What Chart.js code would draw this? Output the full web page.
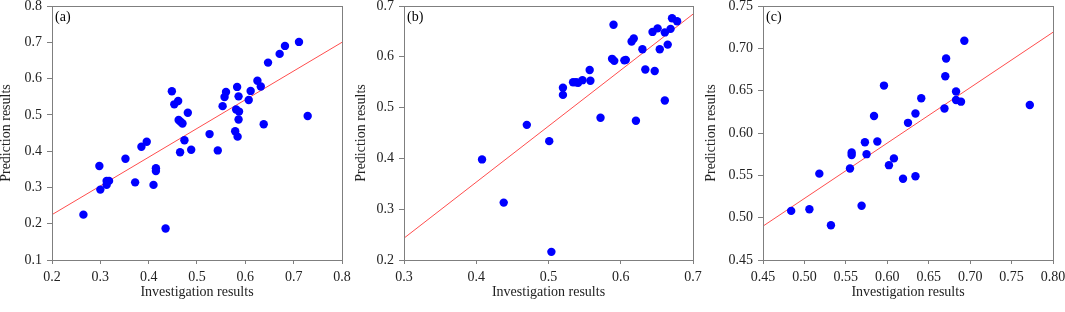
<!DOCTYPE html>
<html>
<head>
<meta charset="utf-8">
<script src="https://cdn.jsdelivr.net/npm/chart.js@4/dist/chart.umd.min.js"></script>
<style>
  body { margin: 0; background: #fff; }
  #wrap { position: relative; width: 1065px; height: 312px; overflow: hidden; }
  .panel { position: absolute; top: 0; }
</style>
</head>
<body>
<div id="wrap">
  <canvas id="chartA" class="panel" width="360" height="312" style="left:0px"></canvas>
  <canvas id="chartB" class="panel" width="355" height="312" style="left:355px"></canvas>
  <canvas id="chartC" class="panel" width="360" height="312" style="left:705px"></canvas>
</div>
<script>
// panel (a)
const xA = [0.265, 0.298, 0.300, 0.313, 0.318, 0.313, 0.352, 0.372, 0.385, 0.396, 0.410, 0.415, 0.415, 0.435, 0.448, 0.453,
  0.461, 0.462, 0.466, 0.470, 0.474, 0.465, 0.481, 0.488, 0.526, 0.543, 0.553, 0.557, 0.560, 0.583, 0.586, 0.581, 0.587,
  0.586, 0.579, 0.584, 0.611, 0.607, 0.625, 0.632, 0.638, 0.647, 0.671, 0.682, 0.711, 0.729];
const yA = [0.225, 0.359, 0.294, 0.318, 0.318, 0.307, 0.379, 0.314, 0.412, 0.426, 0.307, 0.353, 0.345, 0.187, 0.565, 0.529,
  0.538, 0.486, 0.481, 0.476, 0.430, 0.397, 0.506, 0.404, 0.447, 0.402, 0.524, 0.549, 0.563, 0.577, 0.551, 0.515, 0.509,
  0.487, 0.455, 0.440, 0.566, 0.541, 0.594, 0.578, 0.474, 0.644, 0.668, 0.690, 0.701, 0.497];
const fitXA = [0.2, 0.8];
const fitYA = [0.225, 0.700];

// panel (b)
const xB = [0.408, 0.438, 0.470, 0.501, 0.504, 0.520, 0.520, 0.534, 0.538, 0.541, 0.547, 0.557, 0.558, 0.572, 0.590, 0.588,
  0.591, 0.605, 0.607, 0.615, 0.618, 0.621, 0.630, 0.634, 0.644, 0.651, 0.647, 0.654, 0.661, 0.661, 0.665, 0.669, 0.671, 0.678];
const yB = [0.398, 0.313, 0.466, 0.434, 0.216, 0.539, 0.525, 0.550, 0.550, 0.549, 0.554, 0.574, 0.553, 0.480, 0.663, 0.596,
  0.592, 0.593, 0.594, 0.630, 0.636, 0.474, 0.615, 0.575, 0.649, 0.656, 0.572, 0.615, 0.648, 0.514, 0.624, 0.655, 0.676, 0.670];
const fitXB = [0.3, 0.7];
const fitYB = [0.243, 0.684];

// panel (c)
const xC = [0.484, 0.506, 0.518, 0.532, 0.555, 0.557, 0.557, 0.569, 0.573, 0.575, 0.584, 0.588, 0.596, 0.602, 0.608, 0.619,
  0.625, 0.634, 0.634, 0.641, 0.669, 0.670, 0.671, 0.683, 0.683, 0.689, 0.693, 0.772];
const yC = [0.508, 0.510, 0.552, 0.491, 0.558, 0.577, 0.574, 0.514, 0.589, 0.575, 0.620, 0.590, 0.656, 0.562, 0.570, 0.546,
  0.612, 0.623, 0.549, 0.641, 0.629, 0.667, 0.688, 0.649, 0.639, 0.637, 0.709, 0.633];
const fitXC = [0.45, 0.80];
const fitYC = [0.490, 0.719];

const xTitle = "Investigation results";
const yTitle = "Prediction results";

const FONT = "'Liberation Serif', 'Times New Roman', serif";
const AXIS_GRAY = "#7f7f7f";

// box around the plot area plus the (a)/(b)/(c) tag
const framePlugin = {
  id: "frame",
  afterDraw(chart, args, opts) {
    const { ctx, chartArea: a } = chart;
    ctx.save();
    ctx.strokeStyle = AXIS_GRAY;
    ctx.lineWidth = 1;
    ctx.strokeRect(Math.round(a.left) + 0.5, Math.round(a.top) + 0.5,
      Math.round(a.right - a.left), Math.round(a.bottom - a.top));
    ctx.fillStyle = "#000";
    ctx.font = "14px " + FONT;
    ctx.textBaseline = "middle";
    ctx.fillText(opts.text, a.left + 3, a.top + 11);
    ctx.restore();
  }
};

function toPoints(xs, ys) {
  return xs.map((x, i) => ({ x: x, y: ys[i] }));
}

function makePanel(id, tag, xs, ys, fitX, fitY, xr, yr, dec, yWidth, padRight) {
  const ctx = document.getElementById(id).getContext("2d");
  return new Chart(ctx, {
    type: "scatter",
    data: {
      datasets: [{
        data: toPoints(xs, ys),
        backgroundColor: "#0000ff",
        borderWidth: 0,
        pointRadius: 4.2,
        order: 0
      }, {
        type: "line",
        data: toPoints(fitX, fitY),
        borderColor: "#ff4d4d",
        borderWidth: 1,
        pointRadius: 0,
        fill: false,
        order: 1
      }]
    },
    options: {
      responsive: false,
      animation: false,
      events: [],
      layout: { padding: { left: 0, top: 6, right: padRight, bottom: 0 } },
      plugins: {
        legend: { display: false },
        tooltip: { enabled: false },
        frame: { text: tag }
      },
      scales: {
        x: {
          type: "linear",
          min: xr[0], max: xr[1],
          afterFit(s) { s.height = 52; s.paddingLeft = 0; s.paddingRight = 0; },
          border: { display: false },
          grid: { drawOnChartArea: false, drawTicks: true, tickLength: 4, color: AXIS_GRAY },
          ticks: {
            stepSize: xr[2],
            padding: 5,
            color: "#222",
            font: { family: FONT, size: 14 },
            maxRotation: 0,
            callback: v => v.toFixed(dec[0])
          },
          title: {
            display: true, text: xTitle, color: "#222",
            font: { family: FONT, size: 14 },
            padding: { top: 0, bottom: 11 }
          }
        },
        y: {
          type: "linear",
          min: yr[0], max: yr[1],
          afterFit(s) { s.width = yWidth; s.paddingTop = 0; s.paddingBottom = 0; },
          border: { display: false },
          grid: { drawOnChartArea: false, drawTicks: true, tickLength: 5, color: AXIS_GRAY },
          ticks: {
            stepSize: yr[2],
            padding: 5,
            color: "#222",
            font: { family: FONT, size: 14 },
            callback: v => v.toFixed(dec[1])
          },
          title: {
            display: true, text: yTitle, color: "#222",
            font: { family: FONT, size: 14 },
            padding: { top: -2, bottom: 0 }
          }
        }
      }
    },
    plugins: [framePlugin]
  });
}

makePanel("chartA", "(a)", xA, yA, fitXA, fitYA, [0.2, 0.8, 0.1], [0.1, 0.8, 0.1], [1, 1], 52, 18);
makePanel("chartB", "(b)", xB, yB, fitXB, fitYB, [0.3, 0.7, 0.1], [0.2, 0.7, 0.1], [1, 1], 49, 17);
makePanel("chartC", "(c)", xC, yC, fitXC, fitYC, [0.45, 0.80, 0.05], [0.45, 0.75, 0.05], [2, 2], 58, 12);
</script>
</body>
</html>
